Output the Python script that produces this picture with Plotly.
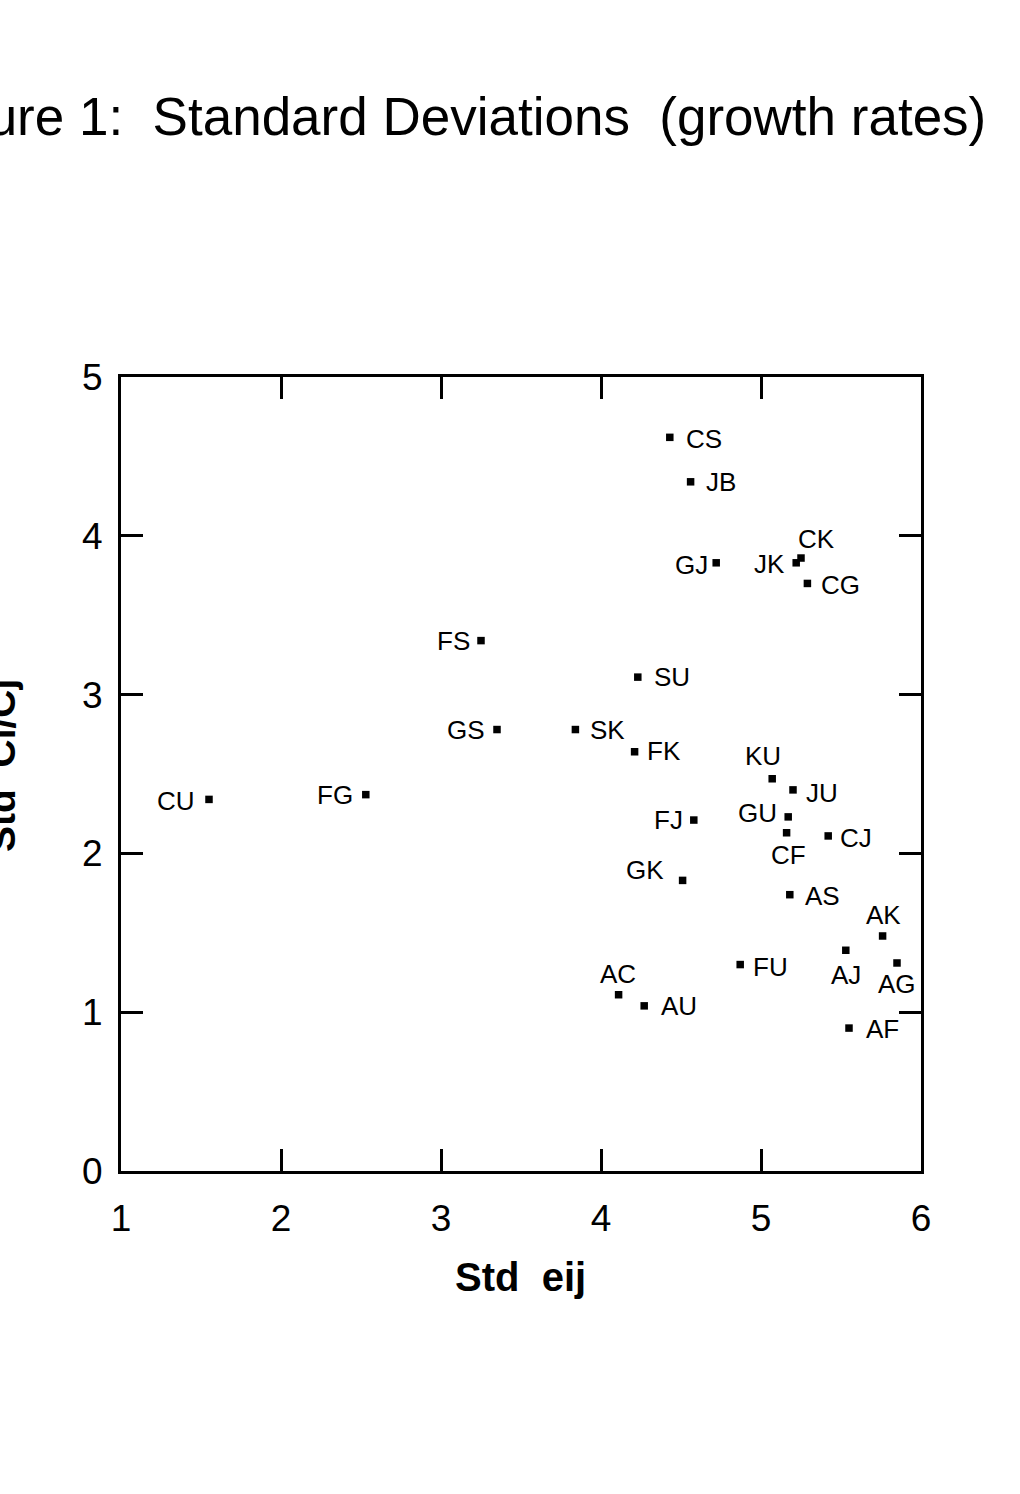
import plotly.graph_objects as go

# ---------------- data ----------------
pair_labels = ["CS", "JB", "CK", "JK", "GJ", "CG", "FS", "SU", "GS", "SK",
               "FK", "CU", "FG", "KU", "JU", "GU", "CF", "FJ", "CJ", "GK",
               "AS", "AK", "AJ", "AG", "FU", "AC", "AU", "AF"]
std_eij = [4.43, 4.56, 5.25, 5.22, 4.72, 5.29, 3.25, 4.23, 3.35, 3.84,
           4.21, 1.55, 2.53, 5.07, 5.20, 5.17, 5.16, 4.58, 5.42, 4.51,
           5.18, 5.76, 5.53, 5.85, 4.87, 4.11, 4.27, 5.55]
std_cicj = [4.62, 4.34, 3.86, 3.83, 3.83, 3.70, 3.34, 3.11, 2.78, 2.78,
            2.64, 2.34, 2.37, 2.47, 2.40, 2.23, 2.13, 2.21, 2.11, 1.83,
            1.74, 1.48, 1.39, 1.31, 1.30, 1.11, 1.04, 0.90]
x_ticks = [1, 2, 3, 4, 5, 6]
y_ticks = [0, 1, 2, 3, 4, 5]

title_text = "Figure 1:\u00a0 Standard Deviations\u00a0 (growth rates)"
x_title = "Std\u00a0 eij"
y_title = "Std\u00a0 Ci/Cj"

# ---------------- style: label offsets (pixels, label centre relative to point) ----------------
label_offsets = {
    "CS": (34, 2), "JB": (30, 0), "CK": (15, -19), "JK": (-27, 1), "GJ": (-25, 2),
    "CG": (33, 2), "FS": (-28, 0), "SU": (34, 0), "GS": (-31, 0), "SK": (32, 0),
    "FK": (29, -1), "CU": (-33, 2), "FG": (-31, 0), "KU": (-9, -23), "JU": (29, 3),
    "GU": (-31, -4), "CF": (2, 22), "FJ": (-25, 0), "CJ": (28, 2), "GK": (-38, -10),
    "AS": (33, 1), "AK": (1, -21), "AJ": (0, 25), "AG": (0, 21), "FU": (30, 2),
    "AC": (-1, -21), "AU": (35, 0), "AF": (33, 1),
}

FONT = "Liberation Sans, Arial, Helvetica, sans-serif"
W, H = 1020, 1494
L, R, T, B = 121, 99, 377, 323
PW, PH = W - L - R, H - T - B


def px_to_paper(px, py):
    return (px - L) / PW, (H - B - py) / PH


fig = go.Figure()
fig.add_trace(go.Scatter(
    x=std_eij, y=std_cicj, mode="markers",
    marker=dict(symbol="square", size=7.5, color="black"),
    cliponaxis=False, showlegend=False, hoverinfo="skip",
    text=pair_labels,
))

annotations = []
for lab, xv, yv in zip(pair_labels, std_eij, std_cicj):
    dx, dy = label_offsets[lab]
    annotations.append(dict(
        x=xv, y=yv, xref="x", yref="y", text=lab, showarrow=False,
        xanchor="center", yanchor="middle", xshift=dx, yshift=-dy,
        font=dict(family=FONT, size=26, color="black"),
    ))

# title (left part runs off the page, as in the scan)
tx, ty = px_to_paper(988, 117)
annotations.append(dict(x=tx, y=ty, xref="paper", yref="paper", text=title_text,
                        showarrow=False, xanchor="right", yanchor="middle",
                        font=dict(family=FONT, size=53, color="black")))
# x axis title
ax_, ay_ = px_to_paper(520, 1277)
annotations.append(dict(x=ax_, y=ay_, xref="paper", yref="paper", text=x_title,
                        showarrow=False, xanchor="center", yanchor="middle",
                        font=dict(family=FONT, size=40, color="black", weight="bold")))
# y axis title (partly cut at the left page edge)
bx, by = px_to_paper(1, 766)
annotations.append(dict(x=bx, y=by, xref="paper", yref="paper", text=y_title,
                        showarrow=False, xanchor="center", yanchor="middle", textangle=-90,
                        font=dict(family=FONT, size=39, color="black", weight="bold")))

axis_common = dict(
    showline=True, linecolor="black", linewidth=2.8, mirror="ticks",
    ticks="inside", ticklen=22, tickwidth=2.5, tickcolor="black",
    showgrid=False, zeroline=False,
    tickfont=dict(family=FONT, size=37, color="black"),
)

fig.update_layout(
    width=W, height=H, autosize=False,
    margin=dict(l=L, r=R, t=T, b=B, pad=0),
    paper_bgcolor="white", plot_bgcolor="white",
    xaxis=dict(range=[1, 6], tickvals=x_ticks, ticktext=[str(v) for v in x_ticks],
               ticklabelstandoff=13, **axis_common),
    yaxis=dict(range=[0, 5], tickvals=y_ticks, ticktext=[str(v) for v in y_ticks],
               ticklabelstandoff=8, **axis_common),
    annotations=annotations,
    showlegend=False,
)

fig.write_html("out.html", config={"displayModeBar": False},
               post_script="document.body.style.margin='0px';document.body.style.overflow='hidden';")
